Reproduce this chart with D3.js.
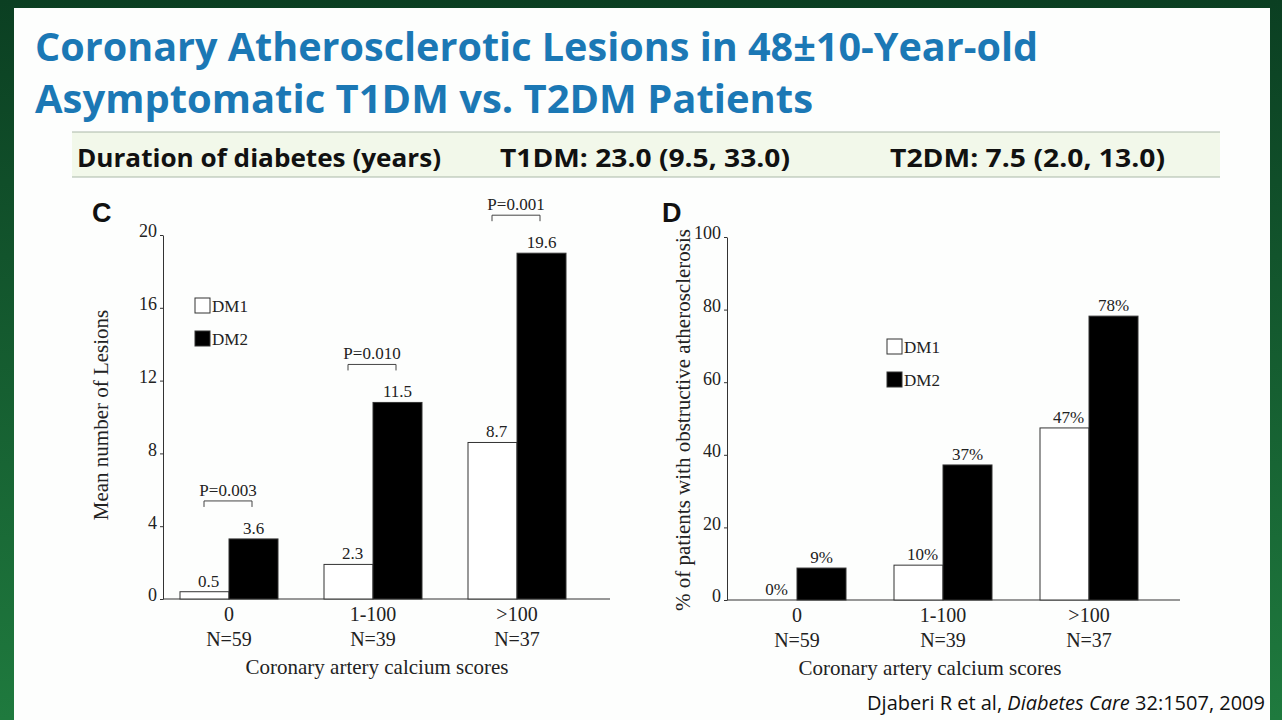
<!DOCTYPE html>
<html>
<head>
<meta charset="utf-8">
<script src="https://cdn.jsdelivr.net/npm/d3@7"></script>
<style>
  body { margin: 0; background: #0d4a26; }
  svg { display: block; }
  .serif { font-family: "Liberation Serif", "DejaVu Serif", serif; fill: #222; }
</style>
</head>
<body>
<div id="slide"></div>
<script>
// Data
const categories = ['0', '1-100', '>100'];
const groupN = ['N=59', 'N=39', 'N=37'];
const series = ['DM1', 'DM2'];

const lesionDM1 = [0.4, 1.9, 8.6];
const lesionDM2 = [3.3, 10.8, 19.0];
const lesionLabelsDM1 = ['0.5', '2.3', '8.7'];
const lesionLabelsDM2 = ['3.6', '11.5', '19.6'];
const lesionP = ['P=0.003', 'P=0.010', 'P=0.001'];
const lesionTicks = [0, 4, 8, 12, 16, 20];

const obstrDM1 = [0, 9.6, 47.4];
const obstrDM2 = [8.8, 37.2, 78.2];
const obstrLabelsDM1 = ['0%', '10%', '47%'];
const obstrLabelsDM2 = ['9%', '37%', '78%'];
const obstrTicks = [0, 20, 40, 60, 80, 100];

const width = 1282, height = 720;
const svg = d3.select('#slide').append('svg').attr('width', width).attr('height', height);

// green frame + white slide
const grad = svg.append('defs').append('linearGradient').attr('id', 'frame')
  .attr('x1', 0).attr('x2', 0).attr('y1', 0).attr('y2', 1);
grad.append('stop').attr('offset', 0).attr('stop-color', '#0b3f22');
grad.append('stop').attr('offset', 1).attr('stop-color', '#1f7a3e');
svg.append('rect').attr('width', width).attr('height', height).attr('fill', 'url(#frame)');
svg.append('rect').attr('x', 14).attr('y', 8).attr('width', 1256).attr('height', 712).attr('fill', '#fdfefd');

// title
const title = svg.append('text').attr('font-family', '"Open Sans", sans-serif')
  .attr('font-weight', 'bold').attr('font-size', 40).attr('fill', '#1b78b5');
title.append('tspan').attr('x', 35).attr('y', 61).attr('textLength', 1003).attr('lengthAdjust', 'spacingAndGlyphs')
  .text('Coronary Atherosclerotic Lesions in 48±10-Year-old');
title.append('tspan').attr('x', 35).attr('y', 113).attr('textLength', 778).attr('lengthAdjust', 'spacingAndGlyphs')
  .text('Asymptomatic T1DM vs. T2DM Patients');

// duration band
svg.append('rect').attr('x', 72).attr('y', 132).attr('width', 1148).attr('height', 45).attr('fill', '#f2f8ea');
svg.append('line').attr('x1', 72).attr('x2', 1220).attr('y1', 132).attr('y2', 132).attr('stroke', '#aab8a8');
svg.append('line').attr('x1', 72).attr('x2', 1220).attr('y1', 177).attr('y2', 177).attr('stroke', '#aab8a8');
[['Duration of diabetes (years)', 77, 364], ['T1DM: 23.0 (9.5, 33.0)', 500, 290], ['T2DM: 7.5 (2.0, 13.0)', 890, 275]]
  .forEach(([t, x, w]) => svg.append('text').attr('x', x).attr('y', 167)
    .attr('font-family', '"Open Sans", sans-serif').attr('font-weight', 'bold')
    .attr('textLength', w).attr('lengthAdjust', 'spacingAndGlyphs')
    .attr('font-size', 25).attr('fill', '#111').text(t));

// citation
const cite = svg.append('text').attr('x', 1265).attr('y', 710).attr('text-anchor', 'end')
  .attr('font-family', '"Open Sans", sans-serif').attr('font-size', 20).attr('fill', '#111');
cite.append('tspan').text('Djaberi R et al, ');
cite.append('tspan').attr('font-style', 'italic').text('Diabetes Care');
cite.append('tspan').text(' 32:1507, 2009');

function panel(o) {
  const g = svg.append('g');
  const x = d3.scaleBand().domain(categories).range(o.xRange);
  const y = d3.scaleLinear().domain([0, o.yMax]).range([o.y0, o.yTop]);
  const bw = o.barW;
  const cx = c => x(c) + x.bandwidth() / 2;

  g.append('text').attr('x', o.letterX).attr('y', 222).attr('font-family', '"Liberation Sans", Arial, sans-serif')
    .attr('font-weight', 'bold').attr('font-size', 27).attr('fill', '#111').text(o.letter);

  const ax = g.append('g').attr('transform', `translate(${o.axisX},0)`)
    .call(d3.axisLeft(y).tickValues(o.ticks).tickSize(3).tickSizeOuter(0));
  ax.select('.domain').attr('stroke', '#333');
  ax.selectAll('.tick line').attr('stroke', '#333');
  ax.selectAll('.tick text').attr('class', 'serif').attr('font-size', 18).attr('dy', '0.1em');
  g.append('line').attr('x1', o.axisX).attr('x2', o.axisEnd).attr('y1', o.y0).attr('y2', o.y0).attr('stroke', '#333');

  categories.forEach((c, i) => {
    const vals = [o.dm1[i], o.dm2[i]];
    const labs = [o.lab1[i], o.lab2[i]];
    vals.forEach((v, j) => {
      const bx = cx(c) - bw + j * bw;
      if (v > 0) g.append('rect').attr('x', bx).attr('y', y(v)).attr('width', bw).attr('height', o.y0 - y(v))
        .attr('fill', j ? '#000' : '#fff').attr('stroke', '#333').attr('stroke-width', 1);
      g.append('text').attr('class', 'serif').attr('x', bx + bw / 2 + (j ? 0 : 4)).attr('y', y(v) - 5)
        .attr('text-anchor', 'middle').attr('font-size', 17).text(labs[j]);
    });
    g.append('text').attr('class', 'serif').attr('x', cx(c)).attr('y', o.y0 + 22)
      .attr('text-anchor', 'middle').attr('font-size', 20).text(c);
    g.append('text').attr('class', 'serif').attr('x', cx(c)).attr('y', o.y0 + 47)
      .attr('text-anchor', 'middle').attr('font-size', 20).text(groupN[i]);
    if (o.p) {
      const top = y(o.dm2[i]) - 38;
      const l = cx(c) - 25, r = cx(c) + 23;
      g.append('path').attr('d', `M${l},${top + 6}V${top}H${r}V${top + 6}`).attr('fill', 'none').attr('stroke', '#444');
      g.append('text').attr('class', 'serif').attr('x', (l + r) / 2).attr('y', top - 5)
        .attr('text-anchor', 'middle').attr('font-size', 17).text(o.p[i]);
    }
  });

  g.append('text').attr('class', 'serif').attr('x', o.xTitle).attr('y', o.y0 + 75)
    .attr('text-anchor', 'middle').attr('font-size', 21).text('Coronary artery calcium scores');
  g.append('text').attr('class', 'serif').attr('transform', `translate(${o.yTitleX},${o.yTitleY}) rotate(-90)`)
    .attr('text-anchor', 'middle').attr('font-size', 21).text(o.yTitle);

  series.forEach((s, j) => {
    const ly = o.legY + j * 33;
    g.append('rect').attr('x', o.legX).attr('y', ly - 14).attr('width', 15).attr('height', 15)
      .attr('fill', j ? '#000' : '#fff').attr('stroke', '#333');
    g.append('text').attr('class', 'serif').attr('x', o.legX + 17).attr('y', ly).attr('font-size', 17).text(s);
  });
}

panel({
  letter: 'C', letterX: 92, xRange: [157, 589], axisX: 163, axisEnd: 610, y0: 599, yTop: 235, yMax: 20,
  ticks: lesionTicks, barW: 49, dm1: lesionDM1, dm2: lesionDM2, lab1: lesionLabelsDM1, lab2: lesionLabelsDM2,
  p: lesionP, xTitle: 377, yTitleX: 108, yTitleY: 415, yTitle: 'Mean number of Lesions', legX: 195, legY: 312
});
panel({
  letter: 'D', letterX: 662, xRange: [724, 1162], axisX: 727, axisEnd: 1180, y0: 600, yTop: 237, yMax: 100,
  ticks: obstrTicks, barW: 49, dm1: obstrDM1, dm2: obstrDM2, lab1: obstrLabelsDM1, lab2: obstrLabelsDM2,
  p: null, xTitle: 930, yTitleX: 690, yTitleY: 420, yTitle: '% of patients with obstructive atherosclerosis',
  legX: 887, legY: 353
});
</script>
</body>
</html>
